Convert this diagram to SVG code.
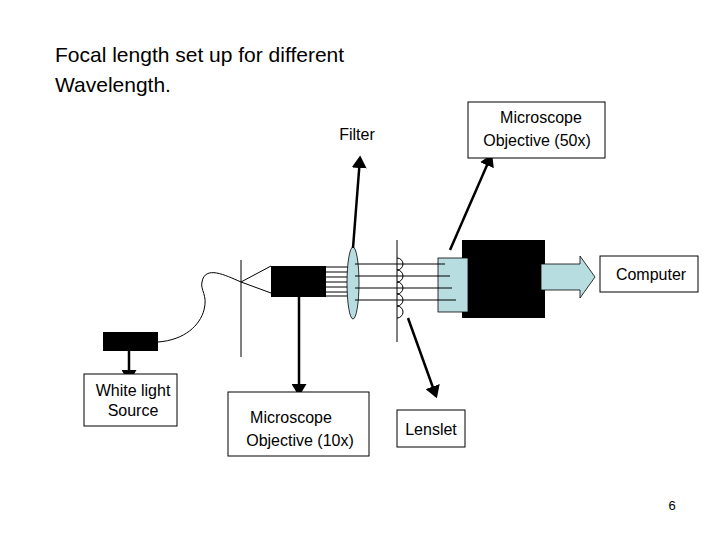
<svg xmlns="http://www.w3.org/2000/svg" width="720" height="540" viewBox="0 0 720 540">
<style>
text{font-family:"Liberation Sans",Arial,sans-serif;font-size:16px;fill:#000}
.t{font-size:21px}
.box{fill:#fff;stroke:#000;stroke-width:1}
.thin{stroke:#000;stroke-width:1;fill:none}
.ptr{stroke:#000;stroke-width:2.5;fill:none;marker-end:url(#ah)}
.blk{fill:#000}
.lb{fill:#b7dde1;stroke:#000;stroke-width:0.8}
</style>
<defs><marker id="ah" markerWidth="6" markerHeight="6" refX="4" refY="3" orient="auto" markerUnits="strokeWidth"><path d="M0,0L5,3L0,6z" fill="#000"/></marker></defs>
<rect width="720" height="540" fill="#fff"/>
<text class="t" x="55" y="62">Focal length set up for different</text>
<text class="t" x="55" y="92">Wavelength.</text>
<g id="optics">
<line class="thin" x1="241" y1="260" x2="241" y2="357"/>
<line class="thin" x1="241" y1="282" x2="271" y2="266"/>
<line class="thin" x1="241" y1="282" x2="271" y2="293"/>
<rect class="blk" x="271" y="266" width="55" height="31"/>
<g class="thin">
<line x1="326" y1="267" x2="350" y2="267"/><line x1="326" y1="272" x2="350" y2="272"/><line x1="326" y1="277" x2="350" y2="277"/><line x1="326" y1="282" x2="350" y2="282"/><line x1="326" y1="287" x2="350" y2="287"/><line x1="326" y1="292" x2="350" y2="292"/><line x1="326" y1="296" x2="350" y2="296"/>
</g>
<ellipse cx="353" cy="283" rx="6" ry="36" fill="#b7dde1" stroke="#000" stroke-width="0.8"/>
<line class="thin" x1="397" y1="240" x2="397" y2="342"/>
<path class="thin" d="M397,258a6,6 0 0 1 0,12a6,6 0 0 1 0,12a6,6 0 0 1 0,12a6,6 0 0 1 0,12a6,6 0 0 1 0,12"/>
<rect class="blk" x="462" y="240" width="83" height="78"/>
<rect class="lb" x="438" y="258" width="30" height="54"/>
<g class="thin">
<line x1="355" y1="264" x2="445" y2="264"/><line x1="355" y1="276" x2="450" y2="276"/><line x1="355" y1="288" x2="452" y2="288"/><line x1="355" y1="300" x2="456" y2="300"/>
</g>
<path class="lb" d="M541,264H580V256L595,277L580,298V290H541z"/>
<rect class="blk" x="103" y="332" width="55" height="19"/>
<path class="thin" d="M158,342C185,340 200,325 204,310C208,295 200,290 202,282C205,265 225,275 241,282"/>
</g>
<g id="connectors">
<line class="ptr" x1="129" y1="351" x2="129" y2="380"/>
<line class="ptr" x1="299" y1="297" x2="299" y2="394"/>
<line class="ptr" x1="353" y1="248" x2="360" y2="158"/>
<line class="ptr" x1="450" y1="250" x2="491" y2="156"/>
<line class="ptr" x1="408" y1="318" x2="436" y2="396"/>
</g>
<g id="white"><rect class="box" x="84" y="374" width="93" height="52"/><text x="133" y="396" text-anchor="middle">White light</text><text x="133" y="416" text-anchor="middle">Source</text></g>
<g id="mo10"><rect class="box" x="228" y="392" width="141" height="64"/><text x="291" y="423" text-anchor="middle">Microscope</text><text x="300" y="446" text-anchor="middle">Objective (10x)</text></g>
<g id="lenslet"><rect class="box" x="397" y="410" width="68" height="37"/><text x="431" y="435" text-anchor="middle">Lenslet</text></g>
<g id="filter"><text x="357" y="140" text-anchor="middle">Filter</text></g>
<g id="mo50"><rect class="box" x="468" y="102" width="137" height="56"/><text x="541" y="123" text-anchor="middle">Microscope</text><text x="537" y="146" text-anchor="middle">Objective (50x)</text></g>
<g id="computer"><rect class="box" x="600" y="256" width="98" height="36"/><text x="651" y="280" text-anchor="middle">Computer</text></g>
<text x="672" y="510" text-anchor="middle" style="font-size:13px">6</text>
</svg>
